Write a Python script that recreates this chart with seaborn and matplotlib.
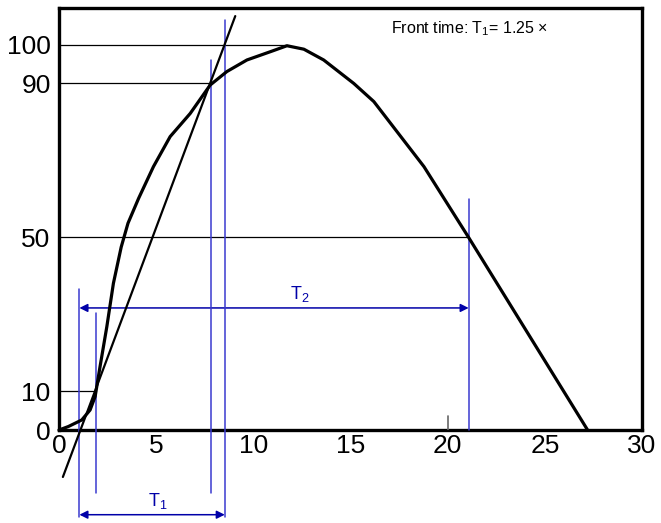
import matplotlib
matplotlib.use("Agg")
import matplotlib.pyplot as plt
import seaborn as sns
import pandas as pd

# curve data (time in µs, voltage in %)
t_curve = [0, 0.48, 1.17, 1.6, 1.86, 2.11, 2.46, 2.8, 3.2, 3.55, 4.1, 4.86, 5.72, 6.75, 7.78,
           8.64, 9.67, 10.96, 11.73, 12.6, 13.62, 15.17, 16.2, 18.78, 21.08, 27.2]
v_curve = [0, 0.9, 2.6, 5.2, 8.7, 16.4, 26.8, 38.1, 47.5, 53.7, 60.2, 68.4, 76.2, 82.2, 89.6,
           93.1, 96.1, 98.4, 99.8, 98.9, 96.1, 90.0, 85.3, 68.4, 50, 0]

# tangent line through 10% and 90% points
t_tan = [0.2, 9.07]
v_tan = [-12.2, 107.5]

# reference levels and where they meet the curve
levels = [10, 50, 90, 100]
level_ends = [1.9, 21.08, 7.78, 11.73]

# vertical blue markers: x, y bottom, y top
vx = [1.05, 1.91, 7.8, 8.53, 21.08]
vy0 = [-22.6, -16.4, -16.4, -22.6, 0]
vy1 = [36.6, 30.4, 96.1, 106.5, 60]

# dimension arrows
t2_span = [1.05, 21.08]
t2_y = 31.7
t1_span = [1.05, 8.53]
t1_y = -22.0

xticks = [0, 5, 10, 15, 20, 25, 30]
yticks = [0, 10, 50, 90, 100]

sns.set_style("white")
plt.rcParams['font.family'] = ['Liberation Sans', 'DejaVu Sans']
plt.rcParams['mathtext.fontset'] = 'custom'
plt.rcParams['mathtext.rm'] = 'Liberation Sans'
plt.rcParams['mathtext.it'] = 'Liberation Sans'

fig = plt.figure(figsize=(6.61, 5.23), dpi=100)
ax = fig.add_axes([59/661, 93/523, 583/661, 422/523])

BLUE = "#0000a8"
VBLUE = "#3a3ad0"

df = pd.DataFrame({"t": t_curve, "v": v_curve})
sns.lineplot(data=df, x="t", y="v", ax=ax, color="black", lw=2.3, sort=False, clip_on=False, zorder=5)
sns.lineplot(x=t_tan, y=v_tan, ax=ax, color="black", lw=1.6, clip_on=False, zorder=5)

for lv, le in zip(levels, level_ends):
    ax.plot([0, le], [lv, lv], color="black", lw=0.9, zorder=3)

for x, y0, y1 in zip(vx, vy0, vy1):
    ax.plot([x, x], [y0, y1], color=VBLUE, lw=1.1, clip_on=False, zorder=4)

ax.plot([20, 20], [0, 3.6], color="#666666", lw=1.2, zorder=3)

arrow = dict(arrowstyle="<|-|>", color=BLUE, lw=1.1, mutation_scale=12, shrinkA=0, shrinkB=0)
ax.annotate("", xy=(t2_span[0], t2_y), xytext=(t2_span[1], t2_y), arrowprops=arrow, annotation_clip=False)
ax.annotate("", xy=(t1_span[0], t1_y), xytext=(t1_span[1], t1_y), arrowprops=arrow, annotation_clip=False)
ax.text(12.4, t2_y + 1.0, r"T$_2$", color=BLUE, fontsize=13, ha="center", va="bottom")
ax.text(5.1, t1_y + 1.0, r"T$_1$", color=BLUE, fontsize=13, ha="center", va="bottom", clip_on=False)

ax.text(0.705, 0.95, r"Front time: T$_1$= 1.25 $\times$", transform=ax.transAxes,
        fontsize=11.5, ha="center", va="center", color="black")

ax.set_xlim(0, 30)
ax.set_ylim(0, 109.6)
ax.set_xticks(xticks)
ax.set_yticks(yticks)
ax.tick_params(axis="both", length=0, labelsize=19, pad=3, labelcolor="black")
ax.tick_params(axis="y", pad=6)
ax.set_xlabel("")
ax.set_ylabel("")
for s in ax.spines.values():
    s.set_visible(True)
    s.set_color("black")
    s.set_linewidth(2.4)

fig.savefig("out.png", dpi=100)
